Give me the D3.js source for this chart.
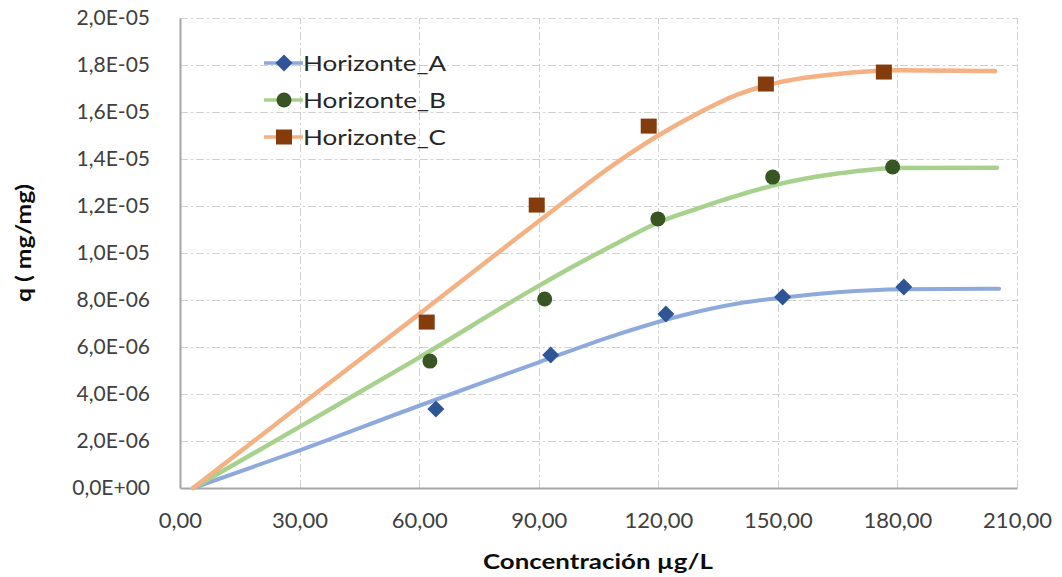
<!DOCTYPE html>
<html>
<head>
<meta charset="utf-8">
<script src="https://cdn.jsdelivr.net/npm/d3@7"></script>
<style>
  body { margin: 0; background: #fff; }
  svg text { font-family: Lato, "Open Sans", sans-serif; }
</style>
</head>
<body>
<div id="chart"></div>
<script>
// ---- data (q in units of 1E-06 mg/mg) ----
var seriesNames = ["Horizonte_A", "Horizonte_B", "Horizonte_C"];
var xTicks = [0, 30, 60, 90, 120, 150, 180, 210];
var yTicks = [0, 2, 4, 6, 8, 10, 12, 14, 16, 18, 20];

// measured points
var ptsA = [[64.2, 3.36], [93.0, 5.66], [121.9, 7.40], [151.2, 8.13], [181.6, 8.55]];
var ptsB = [[62.7, 5.40], [91.5, 8.04], [119.9, 11.45], [148.7, 13.23], [178.8, 13.66]];
var ptsC = [[61.9, 7.06], [89.5, 12.04], [117.6, 15.40], [147.0, 17.19], [176.6, 17.70]];

// fitted curves
var fitA = [[3.3, 0], [30, 1.6], [60, 3.5], [90, 5.35], [110, 6.55], [125, 7.3], [140, 7.85],
            [152, 8.12], [165, 8.33], [181, 8.46], [205.5, 8.48]];
var fitB = [[3.3, 0], [30, 2.6], [60, 5.55], [90, 8.6], [100, 9.55], [110, 10.45], [120, 11.3],
            [130, 11.9], [140, 12.45], [150, 12.92], [165, 13.38], [180, 13.62], [205, 13.63]];
var fitC = [[3.3, 0], [30, 3.5], [60, 7.4], [90, 11.35], [110, 13.9], [120, 15.0], [130, 15.95],
            [140, 16.75], [150, 17.25], [165, 17.62], [180, 17.78], [204.5, 17.74]];

(function(d3){
  var width = 1062, height = 577;
  var margin = {left: 180, top: 18, right: 45, bottom: 89};
  var lineColors = ["#8EA9DB", "#A9D18E", "#F4B183"];
  var markColors = ["#2F5597", "#375623", "#843C0C"];
  var fits = [fitA, fitB, fitC];
  var pts = [ptsA, ptsB, ptsC];

  var svg = d3.select("#chart").append("svg")
      .attr("width", width)
      .attr("height", height);

  var x = d3.scaleLinear().domain([0, 210]).range([margin.left, width - margin.right]);
  var y = d3.scaleLinear().domain([0, 20]).range([height - margin.bottom, margin.top]);

  var loc = d3.formatLocale({decimal: ",", thousands: ".", grouping: [3], currency: ["", ""]});
  var fx = loc.format(".2f");
  function fy(v) {
    var s = (v * 1e-6).toExponential(1).split("e");
    var ex = +s[1];
    return s[0].replace(".", ",") + "E" + (ex < 0 ? "-" : "+") + d3.format("02d")(Math.abs(ex));
  }

  // grid
  var grid = svg.append("g").attr("class", "grid")
      .attr("stroke", "#D0D0D0").attr("stroke-width", 1)
      .attr("stroke-dasharray", "8,3,2,3");
  grid.selectAll(".gy").data(yTicks.slice(1)).enter().append("line")
      .attr("x1", x(0)).attr("x2", x(210))
      .attr("y1", function(d){ return Math.round(y(d)) + 0.5; })
      .attr("y2", function(d){ return Math.round(y(d)) + 0.5; });
  grid.selectAll(".gx").data(xTicks.slice(1)).enter().append("line")
      .attr("y1", y(0)).attr("y2", y(20))
      .attr("x1", function(d){ return Math.round(x(d)) + 0.5; })
      .attr("x2", function(d){ return Math.round(x(d)) + 0.5; });

  // axes
  var xAxis = svg.append("g")
      .attr("transform", "translate(0," + y(0) + ")")
      .call(d3.axisBottom(x).tickValues(xTicks).tickFormat(fx).tickSize(0).tickPadding(24));
  var yAxis = svg.append("g")
      .attr("transform", "translate(" + x(0) + ",0)")
      .call(d3.axisLeft(y).tickValues(yTicks).tickFormat(fy).tickSize(0).tickPadding(30));
  [xAxis, yAxis].forEach(function(a){
    a.select(".domain").attr("stroke", "#A6A6A6").attr("stroke-width", 2);
    a.selectAll("text").attr("font-size", 21).attr("fill", "#404040")
      .style("font-family", "Lato, sans-serif");
  });
  xAxis.selectAll("text").attr("font-size", 22);

  // fitted lines
  var line = d3.line()
      .x(function(d){ return x(d[0]); })
      .y(function(d){ return y(d[1]); })
      .curve(d3.curveMonotoneX);
  svg.append("g").selectAll("path").data(fits).enter().append("path")
      .attr("d", line)
      .attr("fill", "none")
      .attr("stroke", function(d, i){ return lineColors[i]; })
      .attr("stroke-width", function(d, i){ return i == 0 ? 4 : 4.5; })
      .attr("stroke-linecap", "round");

  // markers
  function drawMark(g, i, cx, cy) {
    if (i == 0) {
      g.append("path")
        .attr("d", "M0,-8.5L8.5,0L0,8.5L-8.5,0Z")
        .attr("transform", "translate(" + cx + "," + cy + ")")
        .attr("fill", markColors[i]);
    } else if (i == 1) {
      g.append("circle").attr("cx", cx).attr("cy", cy).attr("r", 7.5)
        .attr("fill", markColors[i]);
    } else {
      g.append("rect").attr("x", cx - 8).attr("y", cy - 7.5)
        .attr("width", 16).attr("height", 15)
        .attr("fill", markColors[i]);
    }
  }
  var markG = svg.append("g");
  pts.forEach(function(s, i){
    s.forEach(function(p){ drawMark(markG, i, x(p[0]), y(p[1])); });
  });

  // legend
  var leg = svg.append("g");
  seriesNames.forEach(function(name, i){
    var ly = 63 + i * 37;
    leg.append("line")
      .attr("x1", 264).attr("x2", 303).attr("y1", ly).attr("y2", ly)
      .attr("stroke", lineColors[i]).attr("stroke-width", 3.5);
    drawMark(leg, i, 284, ly);
    leg.append("text")
      .attr("x", 303).attr("y", ly).attr("dy", "0.36em")
      .attr("font-size", 22).attr("fill", "#262626")
      .attr("textLength", 143).attr("lengthAdjust", "spacingAndGlyphs")
      .text(name);
  });

  // titles
  svg.append("text")
    .attr("x", 598).attr("y", 569)
    .attr("text-anchor", "middle")
    .attr("font-size", 21).attr("font-weight", "bold").attr("fill", "#0D0D0D")
    .attr("textLength", 230).attr("lengthAdjust", "spacingAndGlyphs")
    .text("Concentración µg/L");
  svg.append("text")
    .attr("transform", "translate(31,243) rotate(-90)")
    .attr("text-anchor", "middle")
    .attr("font-size", 21).attr("font-weight", "bold").attr("fill", "#0D0D0D")
    .attr("textLength", 118).attr("lengthAdjust", "spacingAndGlyphs")
    .text("q ( mg/mg)");
})(d3);
</script>
</body>
</html>
